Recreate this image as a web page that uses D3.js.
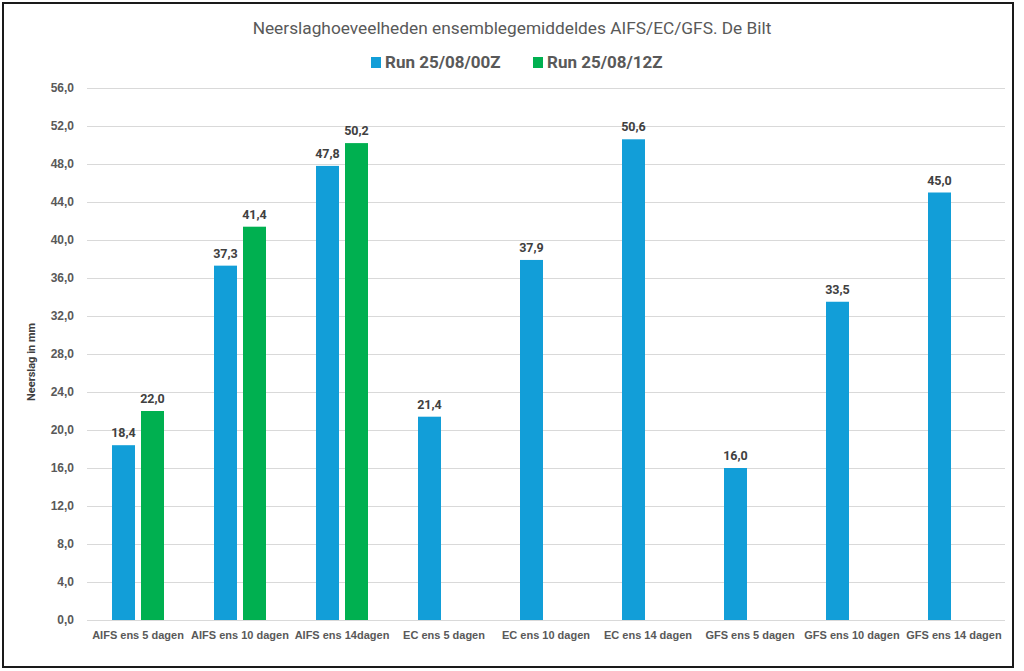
<!DOCTYPE html>
<html>
<head>
<meta charset="utf-8">
<script src="https://cdn.jsdelivr.net/npm/d3@7"></script>
<style>
  html, body { margin: 0; padding: 0; background: #fff; }
  svg { display: block; font-family: "Roboto", "Liberation Sans", sans-serif; }
</style>
</head>
<body>
<svg id="chart" width="1024" height="671"></svg>
<script>
// chart data
const categories = [
  "AIFS ens 5 dagen", "AIFS ens 10 dagen", "AIFS ens 14dagen",
  "EC ens 5 dagen", "EC ens 10 dagen", "EC ens 14 dagen",
  "GFS ens 5 dagen", "GFS ens 10 dagen", "GFS ens 14 dagen"
];
const seriesNames = ["Run 25/08/00Z", "Run 25/08/12Z"];
const run00 = [18.4, 37.3, 47.8, 21.4, 37.9, 50.6, 16.0, 33.5, 45.0];
const run12 = [22.0, 41.4, 50.2, null, null, null, null, null, null];
const yTicks = [0, 4, 8, 12, 16, 20, 24, 28, 32, 36, 40, 44, 48, 52, 56];

const colors = ["#129ed8", "#00b050"];
const textGrey = "#595959";
const fmt = v => v.toFixed(1).replace(".", ",");

const svg = d3.select("#chart");

// outer frame
svg.append("rect")
  .attr("x", 3).attr("y", 3)
  .attr("width", 1010).attr("height", 664)
  .attr("fill", "none")
  .attr("stroke", "#1a1a1a")
  .attr("stroke-width", 2);

const plotL = 87, plotR = 1005, plotT = 88, plotB = 620;

const y = d3.scaleLinear().domain([0, 56]).range([plotB, plotT]);
const x0 = d3.scaleBand().domain(categories).range([plotL, plotR]).padding(0);
const x1 = d3.scaleBand().domain(seriesNames)
  .range([25, 77]).paddingInner(0.207).paddingOuter(0);

// gridlines + tick labels
const yAxis = d3.axisLeft(y).tickValues(yTicks).tickFormat(fmt)
  .tickSize(-(plotR - plotL)).tickPadding(13);
const gy = svg.append("g").attr("transform", `translate(${plotL},0)`).call(yAxis);
gy.select(".domain").remove();
gy.selectAll(".tick line").attr("stroke", "#d9d9d9").attr("stroke-width", 1);
gy.selectAll(".tick text")
  .attr("fill", textGrey).attr("font-size", 12).attr("font-weight", "bold");

// category axis
const xAxis = d3.axisBottom(x0).tickSize(0).tickPadding(11);
const gx = svg.append("g").attr("transform", `translate(0,${plotB})`).call(xAxis);
gx.select(".domain").remove();
gx.selectAll(".tick text")
  .attr("fill", textGrey).attr("font-size", 11).attr("font-weight", "bold");

// bars
const rows = categories.map((c, i) => ({
  cat: c,
  vals: [{ s: seriesNames[0], v: run00[i], k: 0 }, { s: seriesNames[1], v: run12[i], k: 1 }]
    .filter(d => d.v != null)
}));

const groups = svg.selectAll("g.cat").data(rows).enter()
  .append("g").attr("class", "cat")
  .attr("transform", d => `translate(${x0(d.cat)},0)`);

groups.selectAll("rect").data(d => d.vals).enter().append("rect")
  .attr("x", d => x1(d.s))
  .attr("y", d => y(d.v))
  .attr("width", x1.bandwidth())
  .attr("height", d => plotB - y(d.v))
  .attr("fill", d => colors[d.k]);

groups.selectAll("text.val").data(d => d.vals).enter().append("text")
  .attr("class", "val")
  .attr("x", d => x1(d.s) + x1.bandwidth() / 2)
  .attr("y", d => y(d.v) - 8)
  .attr("text-anchor", "middle")
  .attr("font-size", 12.5).attr("font-weight", "bold")
  .attr("fill", "#404040")
  .text(d => fmt(d.v));

// title
svg.append("text")
  .attr("x", 512).attr("y", 34)
  .attr("text-anchor", "middle")
  .attr("font-size", 17.3).attr("fill", textGrey)
  .text("Neerslaghoeveelheden ensemblegemiddeldes AIFS/EC/GFS. De Bilt");

// legend
const legendX = [371, 533];
const lg = svg.selectAll("g.legend").data(seriesNames).enter()
  .append("g").attr("class", "legend")
  .attr("transform", (d, i) => `translate(${legendX[i]},57)`);
lg.append("rect").attr("width", 10).attr("height", 11).attr("fill", (d, i) => colors[i]);
lg.append("text")
  .attr("x", 14).attr("y", 11)
  .attr("font-size", 17).attr("font-weight", "bold").attr("fill", textGrey)
  .text(d => d);

// y title
svg.append("text")
  .attr("transform", "translate(35,362) rotate(-90)")
  .attr("text-anchor", "middle")
  .attr("font-size", 11).attr("font-weight", "bold").attr("fill", "#404040")
  .text("Neerslag in mm");
</script>
</body>
</html>
